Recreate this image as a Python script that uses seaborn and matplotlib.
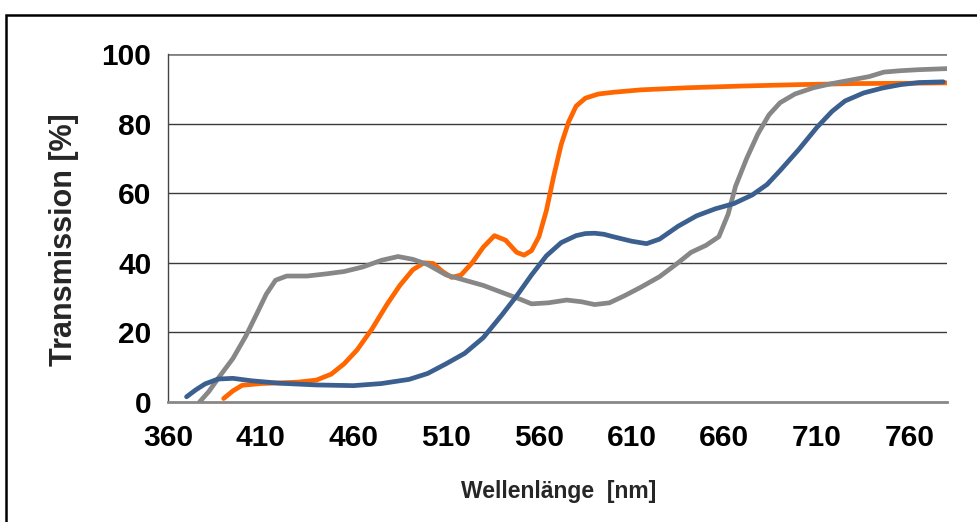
import matplotlib
matplotlib.use("Agg")
import matplotlib.pyplot as plt
from matplotlib.patches import Rectangle
import seaborn as sns

# Transmission curves (wavelength nm, transmission %)
blue_nm = [370, 375, 380, 387, 395, 405, 420, 440, 460, 475, 490, 500, 510, 520, 530,
           540, 548, 556, 564, 572, 580, 585, 590, 595, 600, 610, 618, 625, 635, 645, 655, 665,
           675, 683, 690, 700, 710, 718, 725, 735, 745, 755, 765, 778]
blue_t = [1.5, 3.5, 5.2, 6.6, 6.8, 6.1, 5.4, 4.9, 4.7, 5.3, 6.5, 8.2, 11, 14, 18.5,
          25, 30.5, 36.5, 42, 45.8, 47.8, 48.4, 48.5, 48.2, 47.5, 46.2, 45.5, 46.8, 50.5, 53.5, 55.5, 57,
          59.5, 62.5, 66.5, 72.5, 79, 83.5, 86.5, 88.8, 90.2, 91.2, 91.8, 92]

gray_nm = [377, 382, 388, 395, 402, 408, 413, 418, 424, 435, 445, 455, 465, 475, 484,
           492, 500, 510, 520, 530, 540, 550, 556, 565, 575, 583, 590, 598, 606, 615,
           625, 635, 642, 650, 657, 662, 666, 672, 678, 684, 690, 698, 708, 718, 728,
           738, 746, 755, 765, 780]
gray_t = [0, 3, 7.5, 12.5, 19, 25.5, 31, 35, 36.2, 36.2, 36.8, 37.5, 38.8, 40.7, 41.8,
          41, 39.5, 36.5, 35, 33.5, 31.5, 29.5, 28.2, 28.5, 29.3, 28.8, 28, 28.5, 30.5, 33,
          36, 40, 43, 45, 47.5, 54, 62, 70, 77, 82.5, 86, 88.5, 90.3, 91.5, 92.5,
          93.5, 94.8, 95.2, 95.5, 95.8]

orange_nm = [390, 395, 400, 410, 420, 430, 440, 448, 455, 462, 470, 478, 485, 492, 498,
             503, 508, 513, 518, 524, 530, 536, 542, 548, 552, 556, 560, 564, 568, 572,
             576, 580, 585, 592, 600, 615, 640, 670, 700, 730, 760, 780]
orange_t = [1, 3.2, 4.8, 5.3, 5.5, 5.7, 6.3, 8, 11, 15, 21, 28, 33.5, 38, 40,
            39.8, 37.5, 35.8, 36.5, 40, 44.5, 47.8, 46.5, 43, 42.2, 43.5, 47.5, 55, 65, 74,
            80.5, 85, 87.3, 88.5, 89, 89.7, 90.3, 90.8, 91.2, 91.5, 91.6, 91.7]

x_ticks = [360, 410, 460, 510, 560, 610, 660, 710, 760]
y_ticks = [0, 20, 40, 60, 80, 100]

sns.set_style("white")
plt.rcParams['font.family'] = ['Liberation Sans', 'DejaVu Sans']
plt.rcParams['font.weight'] = 'bold'

fig = plt.figure(figsize=(9.77, 5.22), dpi=100)
ax = fig.add_axes([168 / 977, 120 / 522, 779 / 977, 348 / 522])

lw = 3.4
style = dict(lw=lw, ax=ax, sort=False, solid_capstyle='round', solid_joinstyle='round')
sns.lineplot(x=orange_nm, y=orange_t, color='#FF6600', zorder=3, **style)
sns.lineplot(x=gray_nm, y=gray_t, color='#878787', zorder=4, **style)
sns.lineplot(x=blue_nm, y=blue_t, color='#3B5F8E', zorder=5, **style)

ax.set_xlim(360, 780)
ax.set_ylim(0, 100)
ax.set_xticks(x_ticks)
ax.set_yticks(y_ticks)
ax.tick_params(axis='both', labelsize=21.5, direction='out', colors='black')
ax.tick_params(axis='x', length=6.5, width=1, color='#555555', pad=9)
ax.tick_params(axis='y', length=7, width=1, color='#555555', pad=5)
for lab in ax.get_xticklabels() + ax.get_yticklabels():
    lab.set_fontweight('bold')

ax.yaxis.grid(True, color='#3a3a3a', lw=1.0)
ax.xaxis.grid(False)
ax.get_ygridlines()[-1].set_color('#808080')
ax.get_ygridlines()[-1].set_linewidth(2)
ax.get_ygridlines()[0].set_visible(False)

for s in ['top', 'right']:
    ax.spines[s].set_visible(False)
ax.spines['left'].set_color('#444444')
ax.spines['left'].set_linewidth(1)
ax.spines['bottom'].set_color('#888888')
ax.spines['bottom'].set_linewidth(2)

ax.set_ylabel('Transmission [%]', fontsize=22, fontweight='bold')
ax.yaxis.set_label_coords(-0.114, 0.468)
ax.set_xlabel('Wellenlänge  [nm]', fontsize=16.5, fontweight='bold')
ax.xaxis.set_label_coords(0.501, -0.225)

# outer frame of the chart area (only top and left edges are inside the image)
fig.patches.append(Rectangle((5.5 / 977, -0.1), 1.2, 1 - 14.5 / 522 + 0.1,
                             transform=fig.transFigure, fill=False,
                             edgecolor='black', lw=1.8, clip_on=False))

fig.savefig('out.png', dpi=100, facecolor='white')
